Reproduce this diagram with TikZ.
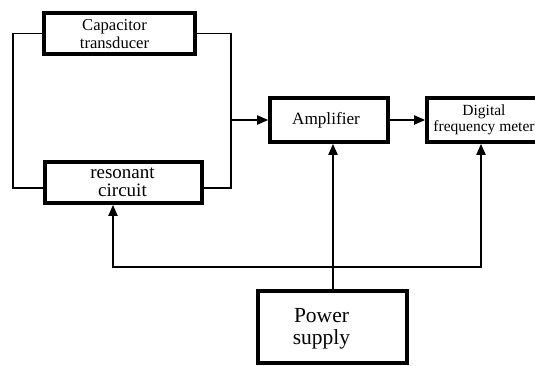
\documentclass[tikz,border=0pt]{standalone}
\usepackage{fontspec}
\setmainfont{Liberation Serif}
\usetikzlibrary{arrows.meta}
\begin{document}
\begin{tikzpicture}[x=1pt,y=-1pt,
  blk/.style={draw, line width=3.6pt, inner sep=0pt},
  lbl/.style={align=center, inner sep=0pt},
  wire/.style={line width=1.8pt},
  arr/.style={wire, -{Triangle[length=11pt,width=9pt]}}]
\useasboundingbox (0,0) rectangle (535,365);
\clip (0,0) rectangle (535,365);
\node[blk, minimum width=151pt, minimum height=41pt,
  label={[lbl, font=\fontsize{16.6}{18.3}\selectfont, xshift=-5pt, yshift=-0.5pt]center:{Capacitor\\transducer}}] (cap) at (119.5,33.5) {};
\node[blk, minimum width=157pt, minimum height=41pt,
  label={[lbl, font=\fontsize{19}{18}\selectfont, xshift=-1pt]center:{resonant\\circuit}}] (res) at (123.5,182.5) {};
\node[blk, minimum width=118pt, minimum height=44pt,
  label={[lbl, font=\fontsize{17.2}{19}\selectfont, xshift=-3pt]center:{Amplifier}}] (amp) at (329,120) {};
\node[blk, minimum width=114pt, minimum height=44pt,
  label={[lbl, font=\fontsize{15.5}{15.9}\selectfont, xshift=0pt]center:{Digital\\frequency meter}}] (dfm) at (484,120) {};
\node[blk, minimum width=149pt, minimum height=72pt,
  label={[lbl, font=\fontsize{21.5}{21.8}\selectfont, xshift=-11pt, yshift=-2pt]center:{Power\\supply}}] (ps) at (332.5,327) {};
\coordinate (L) at (13,188);
\coordinate (R) at (231,188);
\coordinate (J) at (333,267);
% parallel branch
\draw[wire] (cap.west) -| (L) -- (L -| res.west);
\draw[wire] (cap.east) -| (R) -- (R -| res.east);
\draw[arr] (R |- amp.west) -- (amp.west);
\draw[arr] (amp.east) -- (dfm.west);
% power distribution
\draw[arr] (ps.north -| J) -- (J |- amp.south);
\draw[arr] (J) -| ([xshift=-10.5pt]res.south);
\draw[arr] (J) -| (dfm.south -| 481,0);
\end{tikzpicture}
\end{document}
